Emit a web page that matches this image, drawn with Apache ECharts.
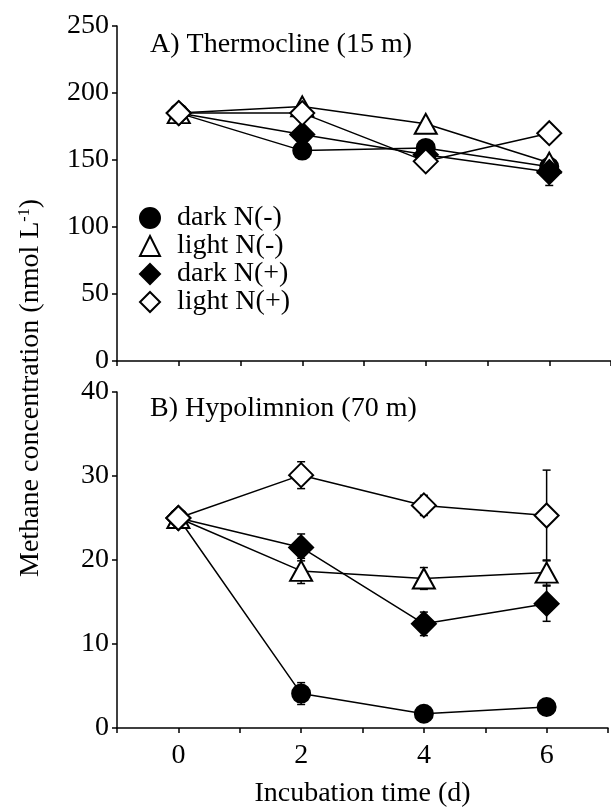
<!DOCTYPE html>
<html>
<head>
<meta charset="utf-8">
<script src="https://cdn.jsdelivr.net/npm/echarts@6/dist/echarts.min.js"></script>
<style>
  html, body { margin: 0; padding: 0; background: #fff; }
  #chart { width: 611px; height: 810px; }
</style>
</head>
<body>
<div id="chart"></div>
<script>
// incubation days
var days = [0, 2, 4, 6];
var xTickLabels = ['0', '2', '4', '6'];
var seriesNames = ['dark N(-)', 'light N(-)', 'dark N(+)', 'light N(+)'];

// A) Thermocline (15 m), nmol/L
var thermoDarkNminus = [185, 157, 159, 145];
var thermoLightNminus = [185, 190, 177, 148];
var thermoDarkNplus = [185, 169, 154, 141];
var thermoLightNplus = [185, 185, 149, 170];
var thermoErrDarkNminus = [0, 2, 2, 3];
var thermoErrLightNminus = [0, 2, 2, 3];
var thermoErrDarkNplus = [0, 3, 3, 10];
var thermoErrLightNplus = [0, 2, 3, 4];

// B) Hypolimnion (70 m), nmol/L
var hypoDarkNminus = [25, 4.1, 1.7, 2.5];
var hypoLightNminus = [25, 18.7, 17.8, 18.5];
var hypoDarkNplus = [25, 21.5, 12.4, 14.8];
var hypoLightNplus = [25, 30.1, 26.5, 25.3];
var hypoErrDarkNminus = [0, 1.3, 0.5, 0.5];
var hypoErrLightNminus = [0, 1.5, 1.3, 1.5];
var hypoErrDarkNplus = [0, 1.6, 1.4, 2.1];
var hypoErrLightNplus = [0, 1.6, 1.2, 5.4];

var FONT = 'Liberation Serif';
var symbols = ['circle', 'triangle', 'diamond', 'diamond'];
var symbolSizes = [18, [22, 20], [24, 24], [24, 24]];
var fills = ['#000', '#fff', '#000', '#fff'];

var chartDom = document.getElementById('chart');
var myChart = echarts.init(chartDom);

function lineSeries(idx, values, axisIdx) {
  return {
    name: seriesNames[idx],
    type: 'line',
    xAxisIndex: axisIdx,
    yAxisIndex: axisIdx,
    data: days.map(function (d, i) { return [d, values[i]]; }),
    symbol: symbols[idx],
    symbolSize: symbolSizes[idx],
    showAllSymbol: true,
    z: 3,
    lineStyle: { color: '#000', width: 1.5 },
    itemStyle: { color: fills[idx], borderColor: '#000', borderWidth: 2, opacity: 1 },
    emphasis: { disabled: true },
    animation: false
  };
}

function errorSeries(valueArrs, errArrs, axisIdx) {
  var data = [];
  valueArrs.forEach(function (vals, s) {
    vals.forEach(function (v, i) {
      if (errArrs[s][i] > 0) data.push([days[i], v, errArrs[s][i]]);
    });
  });
  return {
    type: 'custom',
    xAxisIndex: axisIdx,
    yAxisIndex: axisIdx,
    z: 1,
    silent: true,
    animation: false,
    data: data,
    renderItem: function (params, api) {
      var x = api.value(0), y = api.value(1), e = api.value(2);
      var top = api.coord([x, y + e]);
      var bot = api.coord([x, y - e]);
      var st = { stroke: '#000', lineWidth: 1.5 };
      return {
        type: 'group',
        children: [
          { type: 'line', shape: { x1: top[0], y1: top[1], x2: bot[0], y2: bot[1] }, style: st },
          { type: 'line', shape: { x1: top[0] - 4, y1: top[1], x2: top[0] + 4, y2: top[1] }, style: st },
          { type: 'line', shape: { x1: bot[0] - 4, y1: bot[1], x2: bot[0] + 4, y2: bot[1] }, style: st }
        ]
      };
    }
  };
}

function xAxisOpt(gridIdx, showLabels) {
  return {
    type: 'value',
    gridIndex: gridIdx,
    min: -1,
    max: 7,
    interval: 1,
    axisLine: { show: true, onZero: false, lineStyle: { color: '#000', width: 1.5 } },
    axisTick: { show: true, inside: false, length: 5, lineStyle: { color: '#000', width: 1.5 } },
    splitLine: { show: false },
    axisLabel: {
      show: showLabels,
      margin: 14,
      color: '#000',
      fontFamily: FONT,
      fontSize: 28,
      formatter: function (v) {
        return xTickLabels.indexOf(String(v)) >= 0 ? String(v) : '';
      }
    },
    name: showLabels ? 'Incubation time (d)' : '',
    nameLocation: 'middle',
    nameGap: 52,
    nameTextStyle: { color: '#000', fontFamily: FONT, fontSize: 28 }
  };
}

function yAxisOpt(gridIdx, max, interval) {
  return {
    type: 'value',
    gridIndex: gridIdx,
    min: 0,
    max: max,
    interval: interval,
    axisLine: { show: true, onZero: false, lineStyle: { color: '#000', width: 1.5 } },
    axisTick: { show: true, inside: false, length: 5, lineStyle: { color: '#000', width: 1.5 } },
    splitLine: { show: false },
    axisLabel: { margin: 8, color: '#000', fontFamily: FONT, fontSize: 28 }
  };
}

var option = {
  backgroundColor: '#fff',
  animation: false,
  grid: [
    { left: 117, top: 26, width: 500, height: 335 },
    { left: 117, top: 392, width: 500, height: 336 }
  ],
  title: [
    { text: 'A) Thermocline (15 m)', left: 145, top: 26,
      textStyle: { color: '#000', fontFamily: FONT, fontWeight: 'normal', fontSize: 28 } },
    { text: 'B) Hypolimnion (70 m)', left: 145, top: 390,
      textStyle: { color: '#000', fontFamily: FONT, fontWeight: 'normal', fontSize: 28 } }
  ],
  legend: {
    orient: 'vertical',
    left: 134,
    top: 199,
    itemGap: 0,
    itemWidth: 20,
    itemHeight: 20,
    selectedMode: false,
    data: seriesNames.map(function (n, i) { return { name: n, icon: symbols[i] }; }),
    textStyle: { color: '#000', fontFamily: FONT, fontSize: 28, lineHeight: 28, padding: [0, 0, 0, 12] }
  },
  xAxis: [xAxisOpt(0, false), xAxisOpt(1, true)],
  yAxis: [yAxisOpt(0, 250, 50), yAxisOpt(1, 40, 10)],
  graphic: [
    {
      type: 'text',
      x: 31,
      y: 388,
      rotation: Math.PI / 2,
      style: {
        text: '{a|Methane concentration (nmol L}{s|-1}{a|)}',
        align: 'center',
        verticalAlign: 'middle',
        fill: '#000',
        rich: {
          a: { fontFamily: FONT, fontSize: 28, fill: '#000' },
          s: { fontFamily: FONT, fontSize: 16, fill: '#000', padding: [0, 0, 12, 0] }
        }
      }
    }
  ],
  series: [
    errorSeries([thermoDarkNminus, thermoLightNminus, thermoDarkNplus, thermoLightNplus],
      [thermoErrDarkNminus, thermoErrLightNminus, thermoErrDarkNplus, thermoErrLightNplus], 0),
    errorSeries([hypoDarkNminus, hypoLightNminus, hypoDarkNplus, hypoLightNplus],
      [hypoErrDarkNminus, hypoErrLightNminus, hypoErrDarkNplus, hypoErrLightNplus], 1),
    lineSeries(0, thermoDarkNminus, 0),
    lineSeries(1, thermoLightNminus, 0),
    lineSeries(2, thermoDarkNplus, 0),
    lineSeries(3, thermoLightNplus, 0),
    lineSeries(0, hypoDarkNminus, 1),
    lineSeries(1, hypoLightNminus, 1),
    lineSeries(2, hypoDarkNplus, 1),
    lineSeries(3, hypoLightNplus, 1)
  ]
};

myChart.setOption(option);
window.addEventListener('resize', function () {
  myChart.resize();
});
</script>
</body>
</html>
